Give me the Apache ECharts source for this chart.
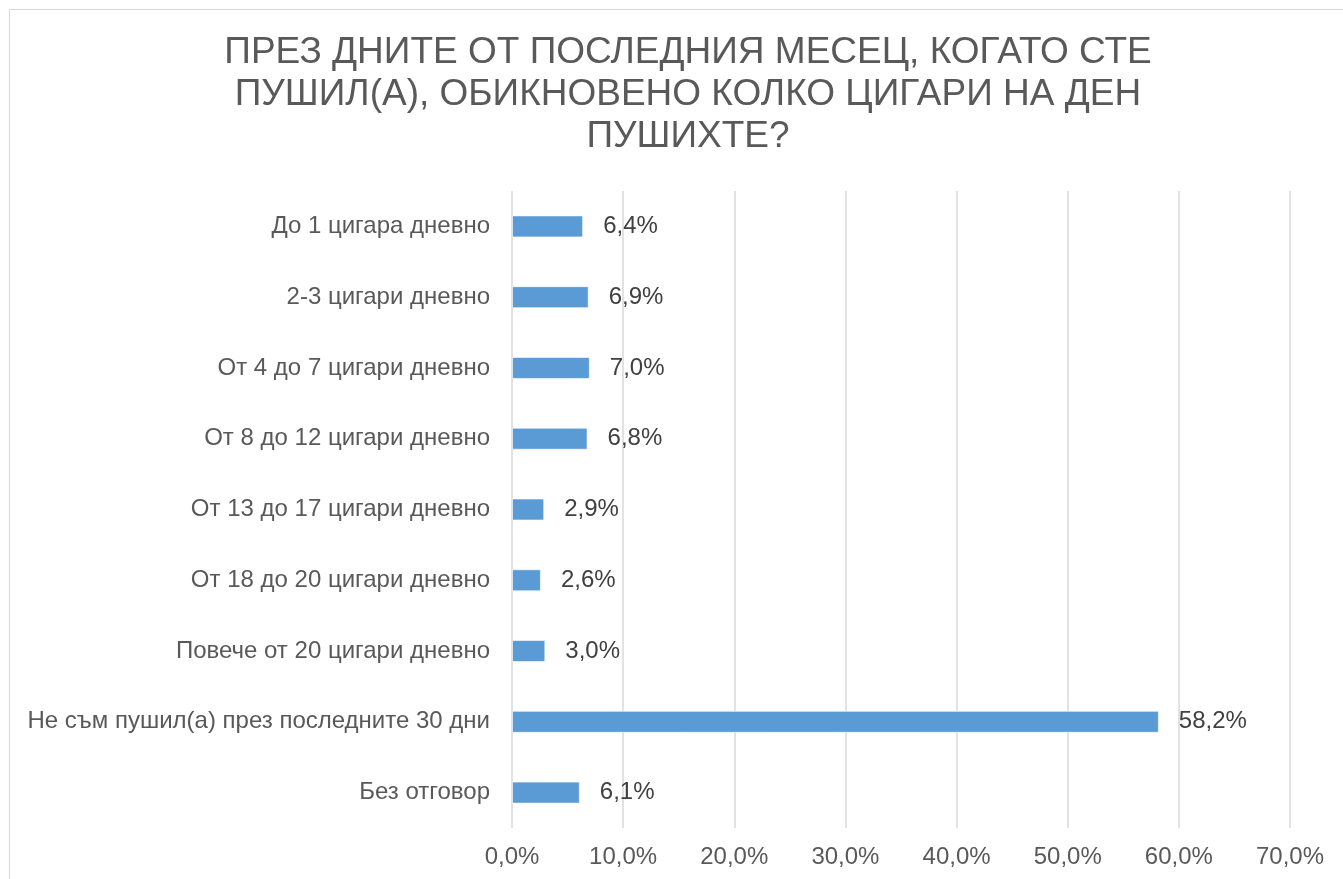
<!DOCTYPE html>
<html>
<head>
<meta charset="utf-8">
<script src="https://cdn.jsdelivr.net/npm/echarts@6/dist/echarts.min.js"></script>
<style>
  html, body { margin: 0; padding: 0; background: #fff; }
  #frame {
    position: absolute; left: 9px; top: 9px;
    width: 1345px; height: 880px;
    border: 1px solid #d9d9d9; box-sizing: border-box;
  }
  #chart { position: absolute; left: 0; top: 0; width: 1343px; height: 879px; }
</style>
</head>
<body>
<div id="frame"></div>
<div id="chart"></div>
<script>
// категории и стойности (в %)
const categories = [
  'До 1 цигара дневно',
  '2-3 цигари дневно',
  'От 4 до 7 цигари дневно',
  'От 8 до 12 цигари дневно',
  'От 13 до 17 цигари дневно',
  'От 18 до 20 цигари дневно',
  'Повече от 20 цигари дневно',
  'Не съм пушил(а) през последните 30 дни',
  'Без отговор'
]
const values = [6.4, 6.9, 7.0, 6.8, 2.9, 2.6, 3.0, 58.2, 6.1]
const titleText = 'ПРЕЗ ДНИТЕ ОТ ПОСЛЕДНИЯ МЕСЕЦ, КОГАТО СТЕ\nПУШИЛ(А), ОБИКНОВЕНО КОЛКО ЦИГАРИ НА ДЕН\nПУШИХТЕ?'

const font = '"Liberation Sans", Arial, sans-serif'
const pct = v => v.toFixed(1).replace('.', ',') + '%'

const chart = echarts.init(document.getElementById('chart'))

chart.setOption({
  animation: false,
  title: {
    text: titleText,
    left: 683,
    textAlign: 'center',
    top: 27,
    textStyle: {
      fontFamily: font,
      fontSize: 37,
      fontWeight: 'normal',
      color: '#595959',
      lineHeight: 42
    }
  },
  grid: { left: 512, right: 53, top: 191, bottom: 51, containLabel: false },
  xAxis: {
    type: 'value',
    min: 0,
    max: 70,
    interval: 10,
    axisLine: { show: false },
    axisTick: { show: false },
    splitLine: { lineStyle: { color: '#d9d9d9', width: 1.5 } },
    axisLabel: {
      margin: 17,
      fontFamily: font,
      fontSize: 24,
      color: '#595959',
      formatter: v => pct(v)
    }
  },
  yAxis: {
    type: 'category',
    data: categories,
    inverse: true,
    axisLine: { show: false },
    axisTick: { show: false },
    axisLabel: {
      margin: 22,
      fontFamily: font,
      fontSize: 24,
      color: '#595959'
    }
  },
  series: [{
    type: 'bar',
    data: values,
    barWidth: 22,
    itemStyle: {
      color: '#5b9bd5',
      borderColor: 'rgba(255,255,255,0.6)',
      borderWidth: 1
    },
    label: {
      show: true,
      position: 'right',
      distance: 20,
      fontFamily: font,
      fontSize: 24,
      color: '#404040',
      formatter: p => pct(p.value)
    }
  }]
})
</script>
</body>
</html>
